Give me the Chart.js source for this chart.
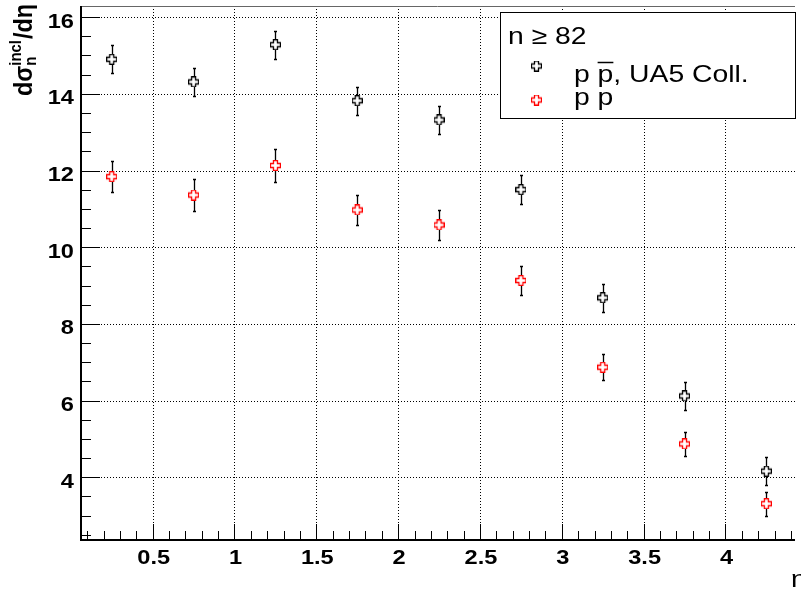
<!DOCTYPE html>
<html>
<head>
<meta charset="utf-8">
<script src="https://cdn.jsdelivr.net/npm/chart.js@4"></script>
<style>
  html, body { margin: 0; padding: 0; background: #fff; overflow: hidden; }
</style>
</head>
<body>
<canvas id="chart" width="801" height="594"></canvas>
<script>
"use strict";

const etaBins = [0.25, 0.75, 1.25, 1.75, 2.25, 2.75, 3.25, 3.75, 4.25];
const ua5Values = [14.9, 14.31, 15.28, 13.82, 13.32, 11.5, 8.68, 6.12, 4.16];
const ua5Errors = [0.37, 0.37, 0.37, 0.37, 0.37, 0.37, 0.37, 0.36, 0.36];
const ppValues = [11.84, 11.36, 12.13, 10.97, 10.58, 9.13, 6.87, 4.87, 3.31];
const ppErrors = [0.41, 0.41, 0.42, 0.4, 0.39, 0.37, 0.34, 0.32, 0.31];
const xTicks = [0.5, 1, 1.5, 2, 2.5, 3, 3.5, 4];
const yTicks = [4, 6, 8, 10, 12, 14, 16];
const legendHeader = "n \u2265 82";

const FONT = "'Liberation Sans', Arial, Helvetica, sans-serif";
const SX = 1.18; // the reference is a bit wider than tall

function openCross(color) {
	const c = document.createElement("canvas");
	c.width = 11;
	c.height = 11;
	const g = c.getContext("2d");
	const a = 3.5, b = 7.5, lo = 0.5, hi = 10.5;
	g.beginPath();
	g.moveTo(a, lo); g.lineTo(b, lo); g.lineTo(b, a); g.lineTo(hi, a);
	g.lineTo(hi, b); g.lineTo(b, b); g.lineTo(b, hi); g.lineTo(a, hi);
	g.lineTo(a, b); g.lineTo(lo, b); g.lineTo(lo, a); g.lineTo(a, a);
	g.closePath();
	g.fillStyle = "#fff";
	g.fill();
	g.strokeStyle = color;
	g.lineWidth = 1.3;
	g.stroke();
	return c;
}

const blackCross = openCross("#000");
const redCross = openCross("#ff0000");

function stretchedText(ctx, txt, x0, y0, align) {
	ctx.save();
	ctx.translate(x0, y0);
	ctx.scale(SX, 1);
	ctx.textAlign = align || "left";
	ctx.fillText(txt, 0, 0);
	ctx.restore();
}

// dotted grid, ROOT style tick marks, labels and axis lines
const rootFrame = {
	id: "rootFrame",
	beforeDatasetsDraw(chart) {
		const { ctx, chartArea: a, scales: { x, y } } = chart;
		ctx.save();
		ctx.strokeStyle = "#000";
		ctx.lineWidth = 1;
		ctx.setLineDash([1, 2]);
		ctx.beginPath();
		x.ticks.forEach((t) => {
			const px = Math.round(x.getPixelForValue(t.value)) + 0.5;
			ctx.moveTo(px, a.top);
			ctx.lineTo(px, a.bottom);
		});
		y.ticks.forEach((t) => {
			const py = Math.round(y.getPixelForValue(t.value)) + 0.5;
			ctx.moveTo(a.left, py);
			ctx.lineTo(a.right, py);
		});
		ctx.stroke();
		ctx.setLineDash([]);

		// x ticks: minor every 0.1, major every 0.5
		ctx.beginPath();
		for (let k = 1; k <= 44; k++) {
			const v = k / 10;
			if (v < x.min || v > x.max) continue;
			const px = Math.round(x.getPixelForValue(v)) + 0.5;
			const len = k % 5 === 0 ? 15 : 8;
			ctx.moveTo(px, a.bottom);
			ctx.lineTo(px, a.bottom - len);
		}
		// y ticks: minor every 0.5, major every 2
		for (let k = 5; k <= 32; k++) {
			const v = k / 2;
			if (v < y.min || v > y.max) continue;
			const py = Math.round(y.getPixelForValue(v)) + 0.5;
			const len = k % 4 === 0 ? 20 : 11;
			ctx.moveTo(a.left, py);
			ctx.lineTo(a.left + len, py);
		}
		ctx.stroke();

		ctx.strokeStyle = "#666";
		ctx.beginPath();
		ctx.moveTo(a.left, a.top + 0.5);
		ctx.lineTo(a.right, a.top + 0.5);
		ctx.stroke();

		ctx.strokeStyle = "#000";
		ctx.lineWidth = 2;
		ctx.beginPath();
		ctx.moveTo(a.left + 1, a.top);
		ctx.lineTo(a.left + 1, a.bottom + 1);
		ctx.lineTo(a.right, a.bottom + 1);
		ctx.stroke();

		// tick labels
		ctx.fillStyle = "#000";
		ctx.font = "bold 20px " + FONT;
		ctx.textBaseline = "alphabetic";
		x.ticks.forEach((t) => {
			stretchedText(ctx, String(t.value), x.getPixelForValue(t.value) + 1, a.bottom + 25, "center");
		});
		y.ticks.forEach((t) => {
			stretchedText(ctx, String(t.value), a.left - 6, y.getPixelForValue(t.value) + 10.5, "right");
		});
		ctx.restore();
	},
};

const errorBars = {
	id: "errorBars",
	beforeDatasetsDraw(chart) {
		const { ctx, scales: { x, y } } = chart;
		const sets = [[ua5Values, ua5Errors], [ppValues, ppErrors]];
		ctx.save();
		ctx.strokeStyle = "#000";
		ctx.lineWidth = 1.3;
		ctx.beginPath();
		sets.forEach(([vals, errs]) => {
			etaBins.forEach((xv, i) => {
				const px = Math.round(x.getPixelForValue(xv)) + 0.5;
				const top = Math.round(y.getPixelForValue(vals[i] + errs[i])) + 0.5;
				const bot = Math.round(y.getPixelForValue(vals[i] - errs[i])) + 0.5;
				ctx.moveTo(px, top);
				ctx.lineTo(px, bot);
				ctx.moveTo(px - 1.5, top);
				ctx.lineTo(px + 1.5, top);
				ctx.moveTo(px - 1.5, bot);
				ctx.lineTo(px + 1.5, bot);
			});
		});
		ctx.stroke();
		ctx.restore();
	},
};

// legend box, axis titles
const rootLegend = {
	id: "rootLegend",
	afterDraw(chart) {
		const { ctx } = chart;
		ctx.save();
		ctx.fillStyle = "#fff";
		ctx.fillRect(501, 13, 295, 106);
		ctx.strokeStyle = "#000";
		ctx.lineWidth = 1;
		ctx.strokeRect(500.5, 12.5, 295, 106);

		ctx.fillStyle = "#000";
		ctx.textBaseline = "alphabetic";
		ctx.font = "24px " + FONT;
		stretchedText(ctx, legendHeader, 508, 44);

		const ds = chart.data.datasets;
		const rows = [82, 105];
		const marks = [66, 100];
		ds.forEach((d, i) => {
			ctx.drawImage(d.pointStyle, 531, marks[i] - 5.5);
			stretchedText(ctx, d.label, 574, rows[i]);
		});
		// bar over the antiproton p
		const wPre = ctx.measureText("p ").width * SX;
		const wP = ctx.measureText("p").width * SX;
		ctx.lineWidth = 1.5;
		ctx.beginPath();
		ctx.moveTo(574 + wPre, rows[0] - 19.5);
		ctx.lineTo(574 + wPre + wP, rows[0] - 19.5);
		ctx.stroke();

		// x title, cut by the canvas edge like the reference
		stretchedText(ctx, "\u03b7", 791, 587);

		// y title
		const big = "bold 22px " + FONT;
		const small = "bold 14px " + FONT;
		ctx.font = big;
		const w1 = ctx.measureText("d\u03c3").width;
		const w3 = ctx.measureText("/d\u03b7").width;
		ctx.font = small;
		const w2 = Math.max(ctx.measureText("n").width, ctx.measureText("incl").width) + 1;
		const k = 92 / (w1 + w2 + w3);
		ctx.translate(32, 96);
		ctx.rotate(-Math.PI / 2);
		ctx.scale(k, SX);
		ctx.font = big;
		ctx.fillText("d\u03c3", 0, 0);
		ctx.font = small;
		ctx.fillText("n", w1, 3);
		ctx.fillText("incl", w1, -9);
		ctx.font = big;
		ctx.fillText("/d\u03b7", w1 + w2, 0);
		ctx.restore();
	},
};

const ctx = document.getElementById("chart");

new Chart(ctx, {
	type: "scatter",
	data: {
		datasets: [
			{
				label: "p p, UA5 Coll.",
				data: etaBins.map((v, i) => ({ x: v, y: ua5Values[i] })),
				pointStyle: blackCross,
				pointRadius: 5,
				showLine: false,
			},
			{
				label: "p p",
				data: etaBins.map((v, i) => ({ x: v, y: ppValues[i] })),
				pointStyle: redCross,
				pointRadius: 5,
				showLine: false,
			},
		],
	},
	options: {
		responsive: false,
		animation: false,
		layout: { padding: { top: 5, right: 0, left: 0, bottom: 0 } },
		plugins: {
			legend: { display: false },
			tooltip: { enabled: false },
		},
		scales: {
			x: {
				type: "linear",
				min: 0.056,
				max: 4.425,
				afterBuildTicks: (s) => {
					s.ticks = xTicks.map((v) => ({ value: v }));
				},
				afterFit: (s) => {
					s.height = 55;
				},
				grid: { display: false },
				border: { display: false },
				ticks: { display: false },
			},
			y: {
				type: "linear",
				min: 2.39,
				max: 16.29,
				afterBuildTicks: (s) => {
					s.ticks = yTicks.map((v) => ({ value: v }));
				},
				afterFit: (s) => {
					s.width = 80;
				},
				grid: { display: false },
				border: { display: false },
				ticks: { display: false },
			},
		},
	},
	plugins: [rootFrame, errorBars, rootLegend],
});
</script>
</body>
</html>
